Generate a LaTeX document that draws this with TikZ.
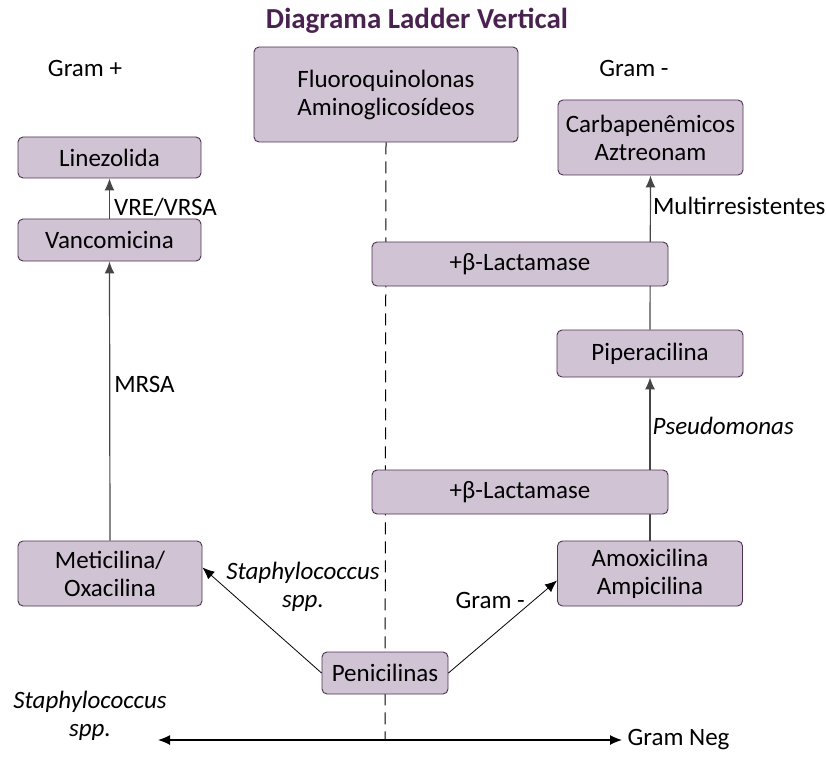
\documentclass[tikz,border=0pt]{standalone}
\usepackage{fontspec}
\setmainfont{Carlito}
\usepackage{xcolor}
\usetikzlibrary{positioning, arrows.meta}

\definecolor{boxfill}{RGB}{208,196,212}
\definecolor{boxline}{RGB}{78,48,84}
\definecolor{titlecol}{RGB}{74,34,80}
\definecolor{linecol}{RGB}{70,70,70}

\begin{document}
\begin{tikzpicture}[x=1pt,y=-1pt,
    font=\fontsize{25}{28}\selectfont,
    tip/.style={-{Latex[length=12pt,width=10pt]}},
    drug/.style={draw=boxline, fill=boxfill, line width=0.9pt, rounded corners=5pt,
        align=center, inner sep=2pt},
    link/.style={tip, draw=linecol, line width=1.2pt},
    lbl/.style={inner sep=2pt}]
        \useasboundingbox (0,0) rectangle (826,759);

        % Title and headers
        \node (title) at (417,21) {\fontsize{29}{32}\selectfont\bfseries\color{titlecol}Diagrama Ladder Vertical};
        \node (gpos) at (85,68) {Gram +};
        \node (gneg) at (634,68) {Gram -};

        % Nodes
        \node (fluoro) [drug, minimum width=264pt, minimum height=95pt] at (386,94.5) {Fluoroquinolonas\\Aminoglicosídeos};
        \node (carb) [drug, minimum width=185pt, minimum height=75pt] at (650.5,137.5) {Carbapenêmicos\\Aztreonam};
        \node (linez) [drug, minimum width=183pt, minimum height=41pt] at (109.5,157.5) {Linezolida};
        \node (vanco) [drug, minimum width=183pt, minimum height=42pt] at (109.5,240) {Vancomicina};
        \node (pip) [drug, minimum width=186pt, minimum height=47pt] at (650,353.5) {Piperacilina};
        \node (meti) [drug, minimum width=184pt, minimum height=65pt] at (110,573.5) {Meticilina/\\Oxacilina};
        \node (amox) [drug, minimum width=185pt, minimum height=65pt] at (650,573.5) {Amoxicilina\\Ampicilina};
        \coordinate (axisL) at (158,740);
        \coordinate (axisR) at (622,740);
        \coordinate (split) at (385,740);

        % Split line and ladder lines (behind the boxes)
        \draw[draw=black, line width=1pt, dash pattern=on 12pt off 7pt] (fluoro.south) -- (split);
        \draw[link] (amox.north) -- node[lbl, right, pos=0.7] {\itshape Pseudomonas} (pip.south);
        \draw[link] (pip.north) -- node[lbl, right, pos=0.8] {Multirresistentes} (carb.south);

        % Nodes on top of the lines
        \node (lact1) [drug, minimum width=296pt, minimum height=44pt] at (520,264) {+β-Lactamase};
        \node (lact2) [drug, minimum width=296pt, minimum height=44pt] at (520,492) {+β-Lactamase};
        \node (peni) [drug, minimum width=126pt, minimum height=42pt] at (385,673) {Penicilinas};

        % Arrows
        \draw[link] (meti.north) -- node[lbl, right, pos=0.56, xshift=2pt] {MRSA} (vanco.south);
        \draw[link] (vanco.north) -- node[lbl, right, pos=0.27, xshift=2pt] {VRE/VRSA} (linez.south);
        \draw[tip, draw=black, line width=0.8pt] (peni.west) -- node[lbl, pos=0.82, anchor=west, align=center] {\itshape Staphylococcus\\\itshape spp.} ([yshift=6pt]meti.east);
        \draw[tip, draw=black, line width=0.8pt] (peni.east) -- node[lbl, pos=0.78, anchor=east, xshift=-6pt] {Gram -} ([yshift=-7pt]amox.west);

        % Axis
        \node (staph) [align=center] at (90,716) {\itshape Staphylococcus\\\itshape spp.};
        \node (gramneg) [right=2pt of axisR] {Gram Neg};
        \draw[{Latex[length=12pt,width=10pt]}-{Latex[length=12pt,width=10pt]}, draw=black, line width=1.2pt] (axisL) -- (axisR);

    \end{tikzpicture}
\end{document}
